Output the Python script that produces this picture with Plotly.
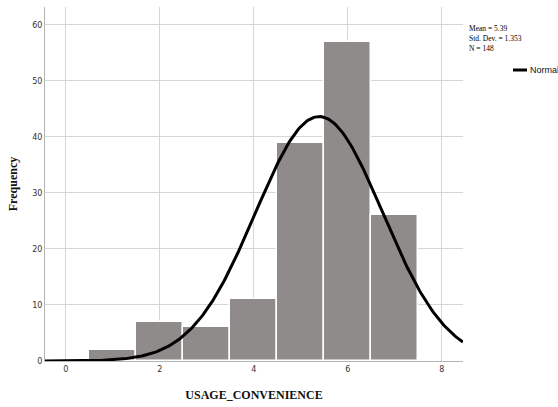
import numpy as np
import plotly.graph_objects as go

bin_centers = [1, 2, 3, 4, 5, 6, 7]
frequencies = [2, 7, 6, 11, 39, 57, 26]
stat_mean = 5.39
stat_sd = 1.353
stat_n = 148
x_ticks = [0, 2, 4, 6, 8]
y_ticks = [0, 10, 20, 30, 40, 50, 60]

x_range = [-0.44, 8.45]
y_range = [0, 63.2]

# normal curve defined by the reported statistics (bin width 1)
xs = np.linspace(x_range[0], x_range[1], 300)
ys = stat_n * np.exp(-0.5 * ((xs - stat_mean) / stat_sd) ** 2) / (stat_sd * np.sqrt(2 * np.pi))

fig = go.Figure()
fig.add_trace(go.Bar(
    x=bin_centers, y=frequencies, width=1,
    marker=dict(color="#8f8b8a", line=dict(color="white", width=1.5)),
    showlegend=False,
))
fig.add_trace(go.Scatter(
    x=xs, y=ys, mode="lines", line=dict(color="black", width=3),
    showlegend=False,
))

tick_font = dict(family="DejaVu Sans", size=8, color="#333333")
title_font = dict(family="Liberation Serif", size=12, color="#111111")

fig.update_layout(
    width=558, height=407,
    margin=dict(l=45, r=95, t=7, b=46),
    paper_bgcolor="white", plot_bgcolor="white",
    bargap=0,
    xaxis=dict(
        range=x_range, tickvals=x_ticks, ticktext=[str(v) for v in x_ticks],
        showgrid=True, gridcolor="#d6d6d6", gridwidth=1,
        showline=True, linecolor="#b5b5b5", linewidth=1,
        zeroline=False, ticks="", tickfont=tick_font,
        title=dict(text="<b>USAGE_CONVENIENCE</b>", font=title_font, standoff=18),
    ),
    yaxis=dict(
        range=y_range, tickvals=y_ticks, ticktext=[str(v) for v in y_ticks],
        showgrid=True, gridcolor="#d6d6d6", gridwidth=1,
        showline=True, linecolor="#b5b5b5", linewidth=1,
        zeroline=False, ticks="", tickfont=tick_font,
        title=dict(text="<b>Frequency</b>", font=title_font, standoff=12),
    ),
    annotations=[
        dict(x=1.0, y=1.0, xref="paper", yref="paper", xanchor="left", yanchor="top",
             xshift=4, yshift=-15, align="left", showarrow=False,
             text=f"Mean = {stat_mean}<br>Std. Dev. = {stat_sd}<br>N = {stat_n}",
             font=dict(family="Liberation Serif", size=7.5, color="#000000")),
        dict(x=1.0, y=1.0, xref="paper", yref="paper", xanchor="left", yanchor="middle",
             xshift=65, yshift=-63, showarrow=False, text="Normal",
             font=dict(family="Liberation Sans", size=9, color="#111111")),
    ],
    shapes=[
        dict(type="line", xref="paper", yref="paper", x0=(513 - 45) / 418, x1=(527 - 45) / 418,
             y0=1 - 63 / 354, y1=1 - 63 / 354, line=dict(color="black", width=3)),
    ],
)

fig.write_html("out.html")
